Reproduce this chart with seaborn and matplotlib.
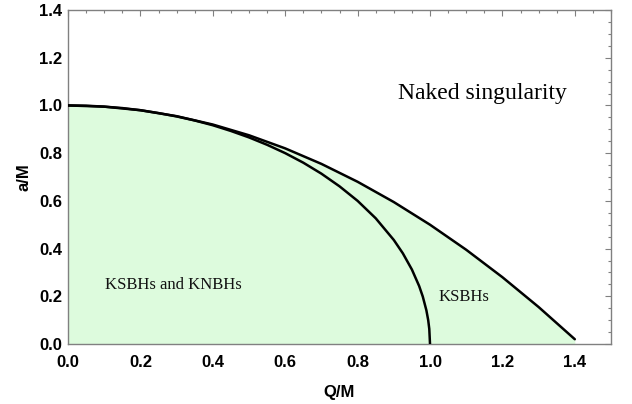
import matplotlib
matplotlib.use("Agg")
import matplotlib.pyplot as plt
from matplotlib.ticker import MultipleLocator
import seaborn as sns
import pandas as pd

sns.set_theme(style="white")
plt.rcParams['font.family'] = ['Liberation Sans', 'DejaVu Sans']

# Outer boundary (KSBHs extremal curve)
q_outer = [0.0, 0.1, 0.2, 0.3, 0.4, 0.5, 0.6, 0.7, 0.8, 0.9, 1.0, 1.1, 1.2, 1.3, 1.4]
a_outer = [1.000, 0.995, 0.980, 0.955, 0.920, 0.875, 0.820, 0.755, 0.680, 0.595,
           0.500, 0.395, 0.280, 0.155, 0.020]

# Inner boundary (KNBHs extremal curve)
q_inner = [0.0, 0.05, 0.1, 0.15, 0.2, 0.25, 0.3, 0.35, 0.4, 0.45, 0.5, 0.55, 0.6,
           0.65, 0.7, 0.75, 0.8, 0.85, 0.9, 0.925, 0.95, 0.97, 0.98, 0.99, 0.995,
           0.998, 1.0]
a_inner = [1.000, 0.999, 0.995, 0.989, 0.980, 0.968, 0.954, 0.937, 0.917, 0.893,
           0.866, 0.835, 0.800, 0.760, 0.714, 0.661, 0.600, 0.527, 0.436, 0.380,
           0.312, 0.243, 0.199, 0.141, 0.100, 0.063, 0.000]

x_ticks = [0.0, 0.2, 0.4, 0.6, 0.8, 1.0, 1.2, 1.4]
y_ticks = [0.0, 0.2, 0.4, 0.6, 0.8, 1.0, 1.2, 1.4]

df_outer = pd.DataFrame({"Q": q_outer, "a": a_outer})
df_inner = pd.DataFrame({"Q": q_inner, "a": a_inner})

fig = plt.figure(figsize=(6.32, 4.04), dpi=100)
ax = fig.add_axes([0.1076, 0.1485, 0.8592, 0.8267])

ax.fill_between(q_outer, 0, a_outer, color="#ddfbdd", lw=0, zorder=1)
sns.lineplot(data=df_outer, x="Q", y="a", ax=ax, color="black", lw=1.8,
             sort=False, estimator=None, zorder=3)
sns.lineplot(data=df_inner, x="Q", y="a", ax=ax, color="black", lw=1.8,
             sort=False, estimator=None, zorder=3)

ax.set_xlim(0, 1.5)
ax.set_ylim(0, 1.4)
ax.set_xticks(x_ticks)
ax.set_yticks(y_ticks)
ax.set_xticklabels([f"{v:.1f}" for v in x_ticks])
ax.set_yticklabels([f"{v:.1f}" for v in y_ticks])
ax.xaxis.set_minor_locator(MultipleLocator(0.05))
ax.yaxis.set_minor_locator(MultipleLocator(0.05))

frame_col = "#808080"
for s in ax.spines.values():
    s.set_color(frame_col)
    s.set_linewidth(1.0)
    s.set_visible(True)
ax.tick_params(which="both", direction="in", top=True, right=True,
               color=frame_col, width=0.8)
ax.tick_params(which="major", length=4.5, labelsize=12)
ax.tick_params(axis="x", which="major", pad=8)
ax.tick_params(axis="y", which="major", pad=4)
ax.tick_params(which="minor", length=2.5)
for lab in ax.get_xticklabels() + ax.get_yticklabels():
    lab.set_fontweight("bold")
    lab.set_color("black")

ax.set_xlabel("Q/M", fontsize=12, fontweight="bold", color="black", labelpad=11)
ax.set_ylabel("a/M", fontsize=12, fontweight="bold", color="black", labelpad=5.5)

serif = ['Liberation Serif', 'DejaVu Serif']
ax.text(1.144, 1.05, "Naked singularity", family=serif, fontsize=17,
        ha="center", va="center", color="black")
ax.text(0.292, 0.246, "KSBHs and KNBHs", family=serif, fontsize=12,
        ha="center", va="center", color="#111111")
ax.text(1.095, 0.197, "KSBHs", family=serif, fontsize=12,
        ha="center", va="center", color="#111111")

fig.savefig("out.png", dpi=100)
